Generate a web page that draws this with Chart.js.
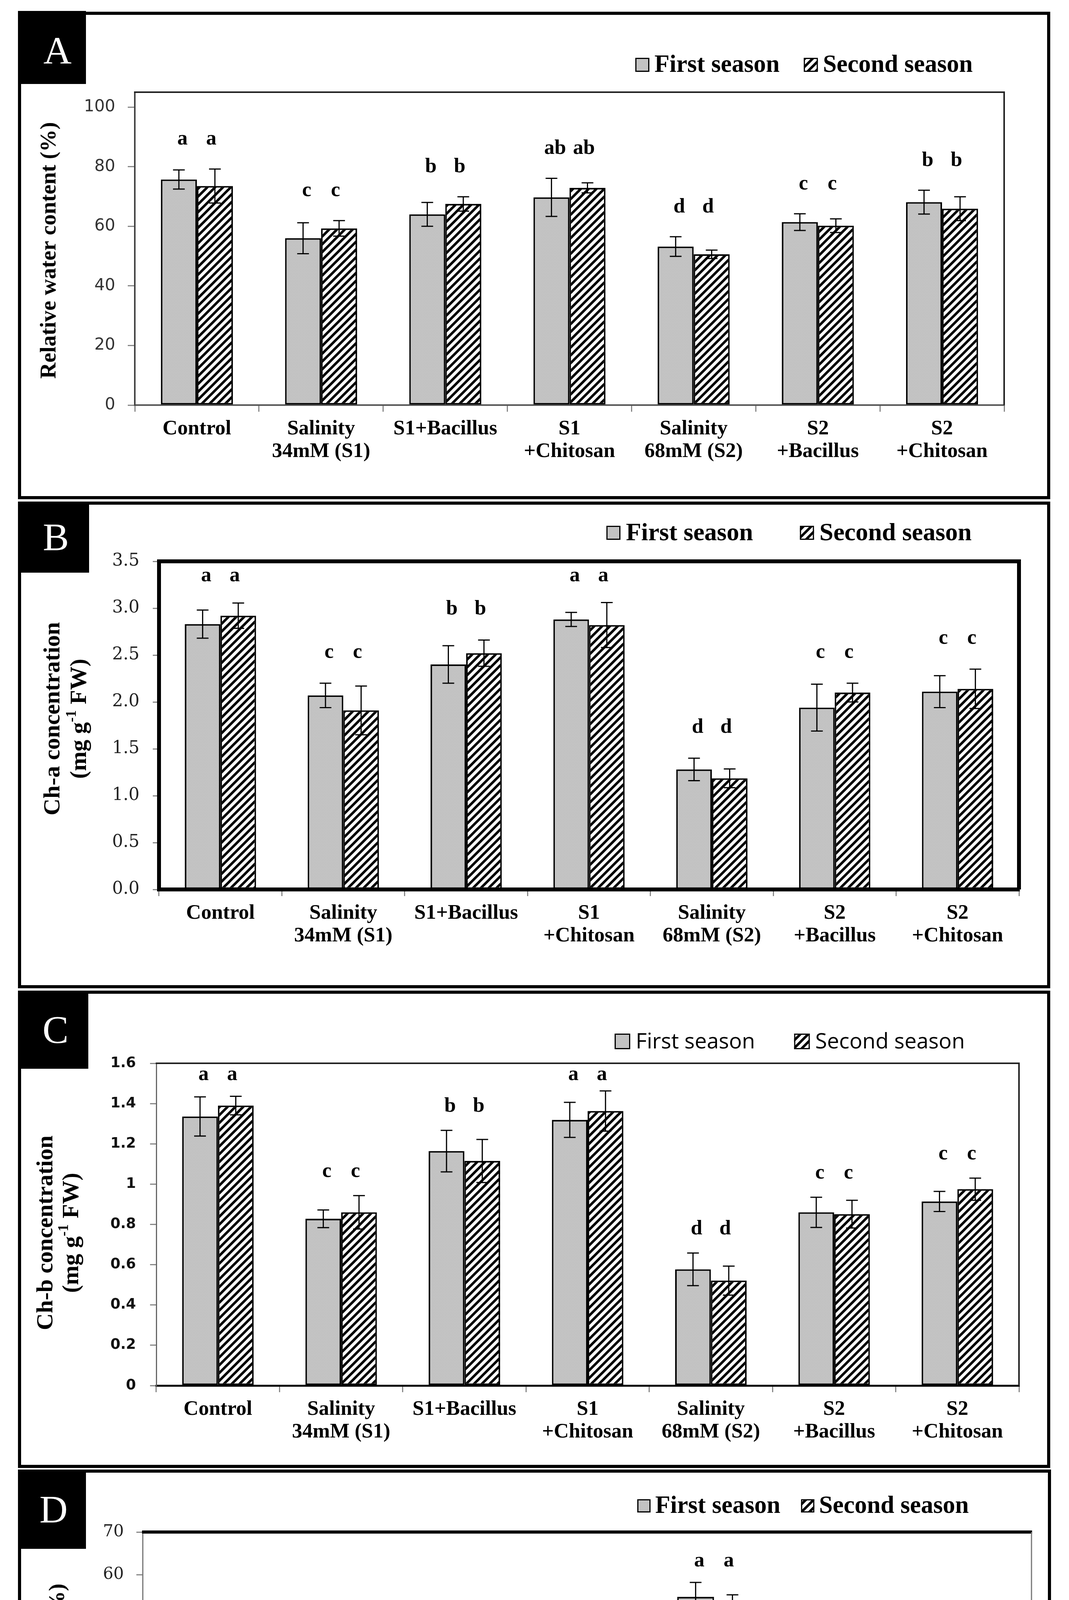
<!DOCTYPE html>
<html><head><meta charset="utf-8"><title>Salinity / Bacillus / Chitosan</title>
<script src="https://cdn.jsdelivr.net/npm/chart.js@4.4.1/dist/chart.umd.min.js"></script>
<style>
html,body{margin:0;padding:0;background:#fff;}
body{position:relative;width:2736px;height:4950px;overflow:hidden;}
.frame{position:absolute;box-sizing:border-box;border:8px solid #000;background:#fff;}
.tag{position:absolute;background:#000;color:#fff;font-family:'Liberation Serif','Times New Roman',serif;font-size:100px;line-height:1;}
.tag span{position:absolute;transform:translate(-50%,-50%);}
canvas.ch{position:absolute;left:0;}
</style></head><body>
<script>
// ---------------- DATA ----------------
const categories = [['Control'], ['Salinity','34mM (S1)'], ['S1+Bacillus'], ['S1','+Chitosan'], ['Salinity','68mM (S2)'], ['S2','+Bacillus'], ['S2','+Chitosan']];
const seriesNames = ['First season', 'Second season'];

// A: Relative water content (%)
const rwcFirst      = [75.7, 56.0, 64.0, 69.7, 53.2, 61.4, 68.1];
const rwcFirstErr   = [3.2, 5.2, 4.0, 6.4, 3.3, 2.8, 4.0];
const rwcSecond     = [73.5, 59.3, 67.5, 72.9, 50.6, 60.2, 65.9];
const rwcSecondErr  = [5.7, 2.6, 2.4, 1.7, 1.4, 2.3, 4.0];
const rwcLetters1   = ['a','c','b','ab','d','c','b'];
const rwcLetters2   = ['a','c','b','ab','d','c','b'];
const rwcTicks      = [0, 20, 40, 60, 80, 100];
const rwcTickLabels = ['0','20','40','60','80','100'];

// B: Ch-a concentration
const chaFirst      = [2.83, 2.07, 2.40, 2.88, 1.28, 1.94, 2.11];
const chaFirstErr   = [0.15, 0.13, 0.20, 0.075, 0.12, 0.25, 0.17];
const chaSecond     = [2.92, 1.91, 2.52, 2.82, 1.185, 2.10, 2.14];
const chaSecondErr  = [0.135, 0.26, 0.14, 0.24, 0.10, 0.10, 0.21];
const chaLetters1   = ['a','c','b','a','d','c','c'];
const chaLetters2   = ['a','c','b','a','d','c','c'];
const chaTicks      = [0, 0.5, 1.0, 1.5, 2.0, 2.5, 3.0, 3.5];
const chaTickLabels = ['0.0','0.5','1.0','1.5','2.0','2.5','3.0','3.5'];

// C: Ch-b concentration
const chbFirst      = [1.336, 0.828, 1.164, 1.319, 0.577, 0.860, 0.914];
const chbFirstErr   = [0.097, 0.044, 0.103, 0.087, 0.081, 0.075, 0.050];
const chbSecond     = [1.390, 0.860, 1.115, 1.363, 0.521, 0.851, 0.975];
const chbSecondErr  = [0.046, 0.083, 0.107, 0.100, 0.072, 0.069, 0.055];
const chbLetters1   = ['a','c','b','a','d','c','c'];
const chbLetters2   = ['a','c','b','a','d','c','c'];
const chbTicks      = [0, 0.2, 0.4, 0.6, 0.8, 1.0, 1.2, 1.4, 1.6];
const chbTickLabels = ['0','0.2','0.4','0.6','0.8','1','1.2','1.4','1.6'];

// D: Electrolyte leakage (%)
const elFirst       = [13.6, 41.4, 29.6, 23.0, 54.8, 39.6, 26.4];
const elFirstErr    = [2.5, 3.2, 3.3, 2.6, 3.4, 2.05, 4.0];
const elSecond      = [14.0, 43.0, 30.8, 20.4, 50.4, 35.7, 28.1];
const elSecondErr   = [3.2, 2.7, 1.9, 4.1, 4.9, 4.75, 2.7];
const elLetters1    = ['f','b','d','e','a','c','d'];
const elLetters2    = ['f','b','d','e','a','c','d'];
const elTicks       = [0, 10, 20, 30, 40, 50, 60, 70];
const elTickLabels  = ['0','10','20','30','40','50','60','70'];

// ---------------- PATTERNS ----------------
function dotPattern(){
  const c = document.createElement('canvas'); c.width = 4; c.height = 4;
  const g = c.getContext('2d');
  g.fillStyle = '#d6d6d6'; g.fillRect(0,0,4,4);
  g.fillStyle = '#707070'; g.fillRect(0,0,1,1); g.fillRect(2,2,1,1);
  g.fillStyle = '#a0a0a0'; g.fillRect(0,2,1,1); g.fillRect(2,0,1,1);
  return c;
}
function hatchPattern(){
  const c = document.createElement('canvas'); c.width = 20; c.height = 20;
  const g = c.getContext('2d');
  g.fillStyle = '#fff'; g.fillRect(0,0,20,20);
  g.strokeStyle = '#000'; g.lineWidth = 6.5; g.lineCap = 'square';
  g.beginPath();
  g.moveTo(-5,25); g.lineTo(25,-5);
  g.moveTo(-5,5); g.lineTo(5,-5);
  g.moveTo(15,25); g.lineTo(25,15);
  g.stroke();
  return c;
}
const tmpCtx = document.createElement('canvas').getContext('2d');
const firstFill = tmpCtx.createPattern(dotPattern(), 'repeat');
const secondFill = tmpCtx.createPattern(hatchPattern(), 'repeat');

// ---------------- PANELS ----------------
const SERIF = "'Liberation Serif','Times New Roman',serif";
const panels = [
  { id:'A', frame:{l:46,t:30,r:2688,b:1278}, tag:{l:46,t:28,w:174,h:187,dx:14,dy:8},
    plot:{l:345,t:236,r:2570,b:1037}, max:105,
    first:rwcFirst, firstErr:rwcFirstErr, second:rwcSecond, secondErr:rwcSecondErr,
    letters:[rwcLetters1, rwcLetters2], ticks:rwcTicks, tickLabels:rwcTickLabels, letterGap:0.095, letterCap:0.93,
    tickFont:{family:"'DejaVu Sans',sans-serif", size:42, weight:'normal'}, tickColor:'#333', tickPad:32, tickLen:18,
    yBorder:{color:'#444', width:4}, xBorder:{color:'#555', width:4},
    box:{top:[4,'#222'], right:[4,'#222']},
    title:{font:'700 57px '+SERIF, lines:[{x:127, runs:[['Relative water content (%)',0]]}], cy:641},
    legend:{x:1626, cy:166, font:'700 63px '+SERIF, sw:36, g1:13, g2:62} },
  { id:'B', frame:{l:46,t:1284,r:2688,b:2530}, tag:{l:46,t:1284,w:182,h:182,dx:6,dy:0},
    plot:{l:407,t:1437,r:2608,b:2277}, max:3.5,
    first:chaFirst, firstErr:chaFirstErr, second:chaSecond, secondErr:chaSecondErr,
    letters:[chaLetters1, chaLetters2], ticks:chaTicks, tickLabels:chaTickLabels, letterGap:0.094, letterCap:0.955,
    tickFont:{family:"'DejaVu Serif',serif", size:44, weight:'normal'}, tickColor:'#222', tickPad:34, tickLen:16,
    yBorder:{color:'#000', width:10}, xBorder:{color:'#000', width:10},
    box:{top:[10,'#000'], right:[10,'#000']},
    title:{font:'700 60px '+SERIF, lines:[{x:136, runs:[['Ch-a concentration',0]]},{x:204, runs:[['(mg g',0],['-1',1],[' FW)',0]]}], cy:1840},
    legend:{x:1552, cy:1364, font:'700 64px '+SERIF, sw:36, g1:14, g2:120} },
  { id:'C', frame:{l:46,t:2536,r:2688,b:3758}, tag:{l:46,t:2536,w:180,h:200,dx:6,dy:0},
    plot:{l:400,t:2722,r:2608,b:3547}, max:1.6,
    first:chbFirst, firstErr:chbFirstErr, second:chbSecond, secondErr:chbSecondErr,
    letters:[chbLetters1, chbLetters2], ticks:chbTicks, tickLabels:chbTickLabels, letterGap:0.075, letterCap:0.965,
    tickFont:{family:"'DejaVu Sans',sans-serif", size:37, weight:'bold'}, tickColor:'#111', tickPad:36, tickLen:16,
    yBorder:{color:'#666', width:3}, xBorder:{color:'#000', width:5},
    box:{top:[4,'#222'], right:[4,'#222']},
    title:{font:'700 60px '+SERIF, lines:[{x:118, runs:[['Ch-b concentration',0]]},{x:184, runs:[['(mg g',0],['-1',1],[' FW)',0]]}], cy:3156},
    legend:{x:1573, cy:2666, font:"400 55px 'Open Sans',sans-serif", sw:40, g1:14, g2:100} },
  { id:'D', frame:{l:46,t:3762,r:2690,b:4905}, tag:{l:46,t:3762,w:174,h:203,dx:4,dy:0},
    plot:{l:365,t:3922,r:2640,b:4687}, max:70,
    first:elFirst, firstErr:elFirstErr, second:elSecond, secondErr:elSecondErr,
    letters:[elLetters1, elLetters2], ticks:elTicks, tickLabels:elTickLabels, letterGap:0.071, letterCap:0.95,
    tickFont:{family:"'DejaVu Serif',serif", size:42, weight:'normal'}, tickColor:'#222', tickPad:32, tickLen:16,
    yBorder:{color:'#777', width:3}, xBorder:{color:'#000', width:8},
    box:{top:[8,'#000'], right:[3,'#777']},
    title:{font:'700 57px '+SERIF, lines:[{x:149, runs:[['Electrolyte leakage (%)',0]]}], cy:4340},
    legend:{x:1631, cy:3855, font:'700 63px '+SERIF, sw:34, g1:12, g2:53} }
];

function decorPlugin(P, T){
  return {
    id: 'decor' + P.id,
    afterDatasetsDraw(chart){
      const ctx = chart.ctx, ys = chart.scales.y;
      // error bars
      chart.data.datasets.forEach((ds, di) => {
        const meta = chart.getDatasetMeta(di);
        meta.data.forEach((bar, i) => {
          const v = ds.data[i], e = ds.errors[i];
          const yt = ys.getPixelForValue(v + e), yb = ys.getPixelForValue(v - e);
          const cap = 15;
          ctx.save();
          ctx.strokeStyle = '#000'; ctx.lineWidth = 3;
          ctx.beginPath();
          ctx.moveTo(bar.x, yt); ctx.lineTo(bar.x, yb);
          ctx.moveTo(bar.x - cap, yt); ctx.lineTo(bar.x + cap, yt);
          ctx.moveTo(bar.x - cap, yb); ctx.lineTo(bar.x + cap, yb);
          ctx.stroke();
          ctx.restore();
        });
      });
      // significance letters
      const m0 = chart.getDatasetMeta(0), m1 = chart.getDatasetMeta(1);
      const d0 = chart.data.datasets[0], d1 = chart.data.datasets[1];
      ctx.save();
      ctx.font = '700 53px ' + SERIF; ctx.fillStyle = '#000';
      ctx.textAlign = 'center'; ctx.textBaseline = 'middle';
      for (let i = 0; i < d0.data.length; i++){
        const top = Math.max(d0.data[i] + d0.errors[i], d1.data[i] + d1.errors[i]);
        const yv = Math.min(top + P.letterGap * P.max, P.letterCap * P.max);
        const y = ys.getPixelForValue(yv);
        const b0 = m0.data[i], b1 = m1.data[i];
        const inset = 0.1 * b0.width;
        ctx.fillText(P.letters[0][i], b0.x + inset, y);
        ctx.fillText(P.letters[1][i], b1.x - inset, y);
      }
      ctx.restore();
    },
    afterDraw(chart){
      const ctx = chart.ctx, ca = chart.chartArea;
      ctx.save();
      // plot box lines
      if (P.box.top){ ctx.strokeStyle = P.box.top[1]; ctx.lineWidth = P.box.top[0];
        ctx.beginPath(); ctx.moveTo(ca.left - P.yBorder.width/2, ca.top); ctx.lineTo(ca.right + P.box.right[0]/2, ca.top); ctx.stroke(); }
      if (P.box.right){ ctx.strokeStyle = P.box.right[1]; ctx.lineWidth = P.box.right[0];
        ctx.beginPath(); ctx.moveTo(ca.right, ca.top); ctx.lineTo(ca.right, ca.bottom); ctx.stroke(); }
      // y title (rotated)
      const TT = P.title;
      TT.lines.forEach(line => {
        ctx.save();
        ctx.translate(line.x, TT.cy - T);
        ctx.rotate(-Math.PI/2);
        ctx.fillStyle = '#000'; ctx.textBaseline = 'middle'; ctx.textAlign = 'left';
        const big = TT.font;
        const size = parseFloat(big.match(/(\d+)px/)[1]);
        const small = big.replace(/\d+px/, Math.round(size*0.62) + 'px');
        let w = 0;
        line.runs.forEach(r => { ctx.font = r[1] ? small : big; w += ctx.measureText(r[0]).width; });
        let x = -w/2;
        line.runs.forEach(r => {
          ctx.font = r[1] ? small : big;
          ctx.fillText(r[0], x, r[1] ? -size*0.32 : 0);
          x += ctx.measureText(r[0]).width;
        });
        ctx.restore();
      });
      // legend
      const L = P.legend;
      let x = L.x; const cy = L.cy - T;
      chart.data.datasets.forEach(ds => {
        ctx.fillStyle = ds.backgroundColor;
        ctx.fillRect(x, cy - L.sw/2, L.sw, L.sw);
        ctx.lineWidth = 3; ctx.strokeStyle = '#000';
        ctx.strokeRect(x + 1.5, cy - L.sw/2 + 1.5, L.sw - 3, L.sw - 3);
        x += L.sw + L.g1;
        ctx.font = L.font; ctx.fillStyle = '#000'; ctx.textBaseline = 'middle'; ctx.textAlign = 'left';
        ctx.fillText(ds.label, x, cy + 2);
        x += ctx.measureText(ds.label).width + L.g2;
      });
      ctx.restore();
    }
  };
}

function buildPanel(P){
  const f = P.frame, H = f.b - f.t, T = f.t;
  const fr = document.createElement('div'); fr.className = 'frame';
  Object.assign(fr.style, {left:f.l+'px', top:f.t+'px', width:(f.r-f.l)+'px', height:H+'px'});
  document.body.appendChild(fr);

  const cv = document.createElement('canvas'); cv.className = 'ch';
  cv.width = 2736; cv.height = H;
  Object.assign(cv.style, {top:T+'px', width:'2736px', height:H+'px'});
  document.body.appendChild(cv);

  const tg = document.createElement('div'); tg.className = 'tag';
  Object.assign(tg.style, {left:P.tag.l+'px', top:P.tag.t+'px', width:P.tag.w+'px', height:P.tag.h+'px'});
  const sp = document.createElement('span'); sp.textContent = P.id;
  Object.assign(sp.style, {left:(P.tag.w/2 + P.tag.dx)+'px', top:(P.tag.h/2 + P.tag.dy)+'px'});
  tg.appendChild(sp); document.body.appendChild(tg);

  new Chart(cv.getContext('2d'), {
    type: 'bar',
    data: {
      labels: categories,
      datasets: [
        { label: seriesNames[0], data: P.first, errors: P.firstErr, backgroundColor: firstFill,
          borderColor: '#000', borderWidth: 4, borderSkipped: false },
        { label: seriesNames[1], data: P.second, errors: P.secondErr, backgroundColor: secondFill,
          borderColor: '#000', borderWidth: 4, borderSkipped: false }
      ]
    },
    options: {
      responsive: false, animation: false, devicePixelRatio: 1, events: [],
      datasets: { bar: { categoryPercentage: 0.58, barPercentage: 1.0 } },
      layout: { padding: { left: 0, top: P.plot.t - T, right: 2736 - P.plot.r, bottom: 0 } },
      plugins: { legend: { display: false }, tooltip: { enabled: false }, title: { display: false } },
      scales: {
        x: {
          afterFit: s => { s.height = f.b - P.plot.b; },
          ticks: { font: { family: SERIF, size: 53, weight: 'bold', lineHeight: 1.08 }, color: '#000',
                   padding: 16, maxRotation: 0, minRotation: 0, autoSkip: false },
          grid: { drawOnChartArea: false, drawTicks: true, tickLength: 17, color: '#888', lineWidth: 3, offset: true },
          border: { display: true, color: P.xBorder.color, width: P.xBorder.width }
        },
        y: {
          min: 0, max: P.max,
          afterBuildTicks: s => { s.ticks = P.ticks.map(v => ({ value: v })); },
          afterFit: s => { s.width = P.plot.l; },
          ticks: { callback: (v, i) => P.tickLabels[i], font: P.tickFont, color: P.tickColor, padding: P.tickPad },
          grid: { drawOnChartArea: false, drawTicks: true, tickLength: P.tickLen, color: '#888', lineWidth: 3 },
          border: { display: true, color: P.yBorder.color, width: P.yBorder.width }
        }
      }
    },
    plugins: [decorPlugin(P, T)]
  });
}

panels.forEach(buildPanel);
</script>
</body></html>
